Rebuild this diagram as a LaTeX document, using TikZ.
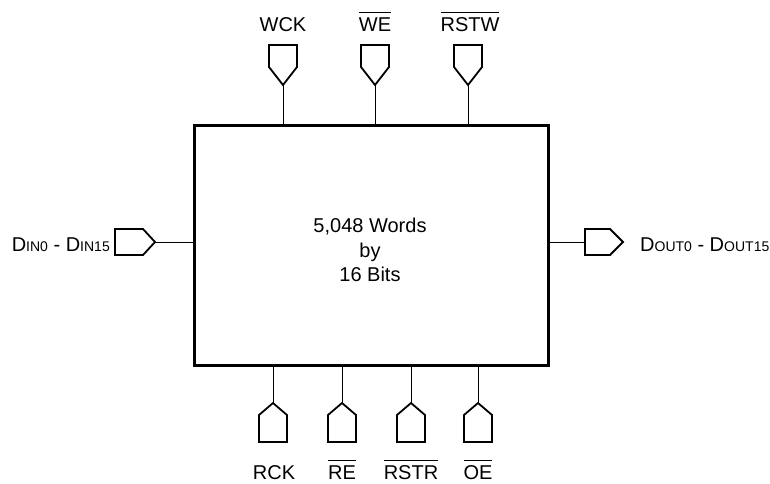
\documentclass[tikz,border=0pt]{standalone}
\usepackage{fontspec}
\setmainfont{Liberation Sans}
\newcommand{\smallpart}[1]{{\fontsize{14}{14}\selectfont #1}}
\newcommand{\barred}[1]{$\overline{\mbox{\rule{0pt}{17.5pt}#1}}$}
\begin{document}
\begin{tikzpicture}[x=1pt,y=-1pt,
  box/.style={draw, line width=2.5pt, inner sep=0pt},
  pinline/.style={line width=1.8pt, line join=miter},
  wire/.style={line width=0.8pt},
  lbl/.style={font=\fontsize{20}{24}\selectfont, inner sep=0pt}]
\useasboundingbox (0,0) rectangle (770,483);
\node[box, minimum width=354pt, minimum height=240pt, anchor=north west] (chip) at (193,124) {};
% center text
\node[lbl, anchor=base] (t1) at (370,232) {5,048 Words};
\node[lbl, anchor=base] (t2) at (370,257) {by};
\node[lbl, anchor=base] (t3) at (370,281) {16 Bits};
% top pins
\foreach \n/\x in {wck/283, we/375, rstw/468} {
  \draw[pinline] (\x-14,45) -- (\x+14,45) -- (\x+14,67) -- (\x,85) -- (\x-14,67) -- cycle;
  \coordinate (\n) at (\x,85);
  \draw[wire] (\n) -- (\n |- chip.north);
}
\node[lbl, anchor=base] (wckl) at (283,31) {WCK};
\node[lbl, anchor=base] (wel) at (375,31) {\barred{WE}};
\node[lbl, anchor=base] (rstwl) at (470,31) {\barred{RSTW}};
% bottom pins
\foreach \n/\x in {rck/273, re/342, rstr/411, oe/478} {
  \draw[pinline] (\x,403) -- (\x+14,415) -- (\x+14,442) -- (\x-14,442) -- (\x-14,415) -- cycle;
  \coordinate (\n) at (\x,403);
  \draw[wire] (\n) -- (\n |- chip.south);
}
\node[lbl, anchor=base] (rckl) at (274,479) {RCK};
\node[lbl, anchor=base] (rel) at (342,479) {\barred{RE}};
\node[lbl, anchor=base] (rstrl) at (411,479) {\barred{RSTR}};
\node[lbl, anchor=base] (oel) at (478,479) {\barred{OE}};
% left pin
\draw[pinline] (115,229) -- (143,229) -- (155,242) -- (143,255) -- (115,255) -- cycle;
\coordinate (din) at (155,242);
\draw[wire] (din) -- (din -| chip.west);
\node[lbl, anchor=base east] (dinl) at (110,251) {D\smallpart{IN0} - D\smallpart{IN15}};
% right pin
\draw[pinline] (585,229) -- (610,229) -- (623,242) -- (610,255) -- (585,255) -- cycle;
\coordinate (dout) at (585,242);
\draw[wire] (dout) -- (dout -| chip.east);
\node[lbl, anchor=base west] (doutl) at (640,251) {D\smallpart{OUT0} - D\smallpart{OUT15}};
\end{tikzpicture}
\end{document}
